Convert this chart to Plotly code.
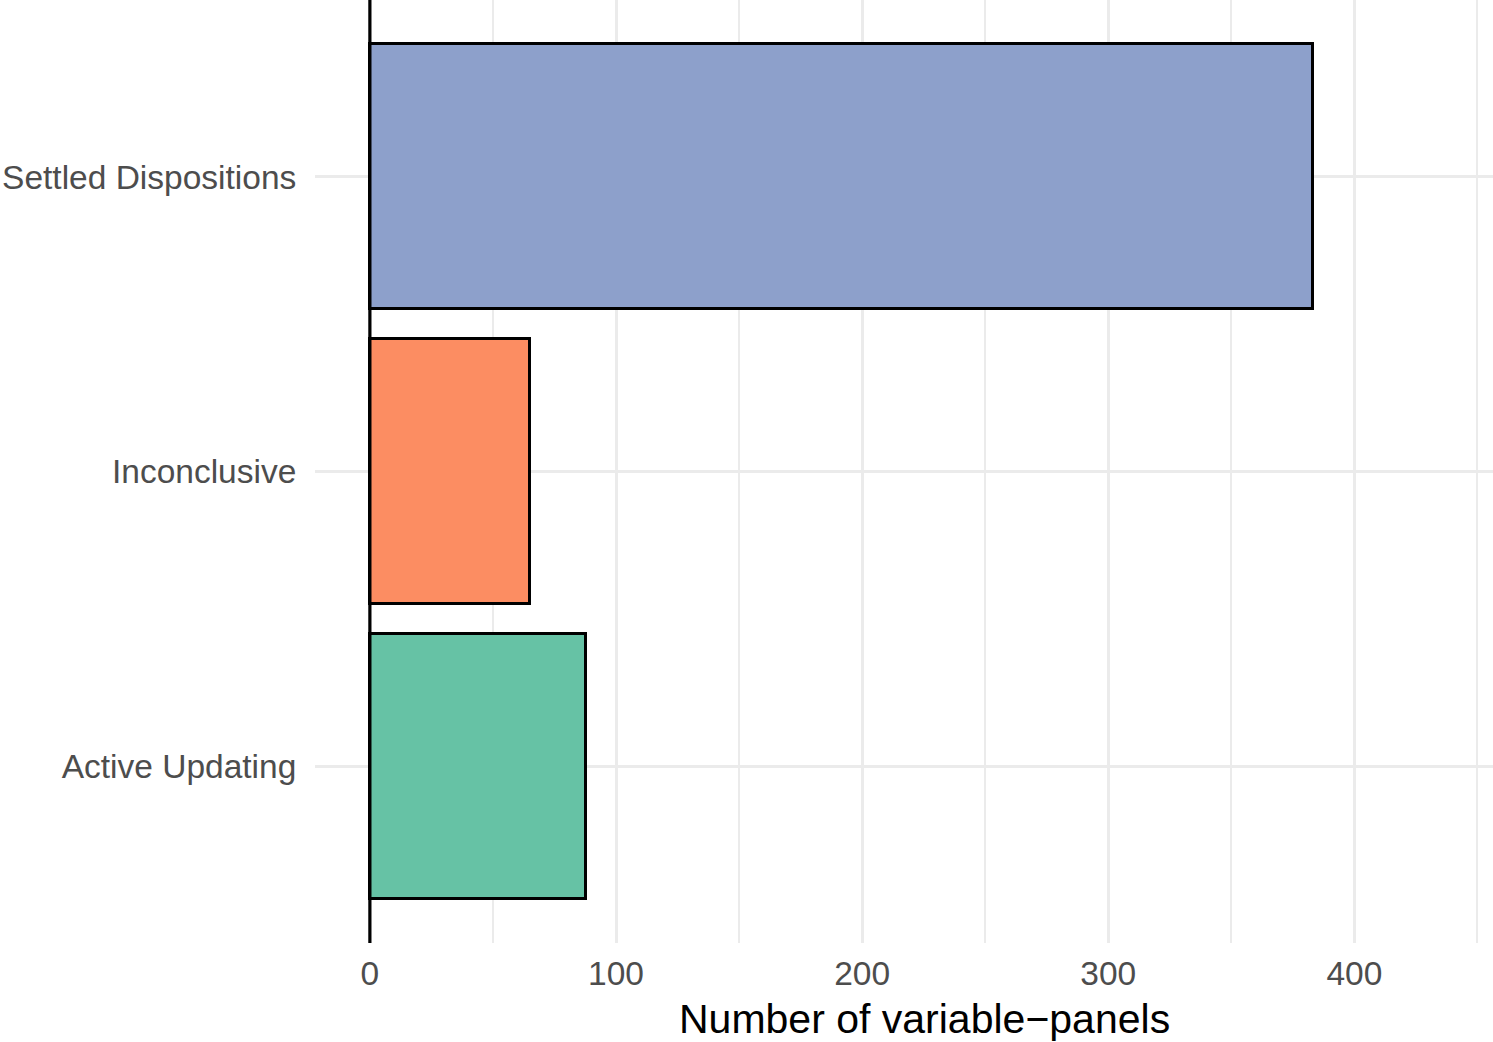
import plotly.graph_objects as go

categories = ["Settled Dispositions", "Inconclusive", "Active Updating"]
counts = [383, 65, 88]
bar_colors = ["#8DA0CB", "#FC8D62", "#66C2A5"]
x_ticks = [0, 100, 200, 300, 400]
x_title = "Number of variable\u2212panels"

FONT = "Liberation Sans, Arial, Helvetica, sans-serif"

fig = go.Figure()
fig.add_trace(go.Bar(
    y=categories,
    x=counts,
    orientation="h",
    width=0.9,
    marker=dict(color=bar_colors, line=dict(color="black", width=3)),
    showlegend=False,
))

fig.add_shape(type="line", xref="x", yref="y domain", x0=0, x1=0, y0=0, y1=1,
              line=dict(color="black", width=3.2), layer="above")

fig.add_annotation(text=x_title, xref="paper", yref="paper",
                   x=(924 - 315) / (1493 - 315), y=-(1019 - 943) / 943,
                   xanchor="center", yanchor="middle", showarrow=False,
                   font=dict(family=FONT, size=41, color="black"))

fig.update_layout(
    width=1493, height=1042,
    margin=dict(l=315, r=0, t=0, b=99),
    paper_bgcolor="white", plot_bgcolor="white",
    font=dict(family=FONT, color="#4D4D4D"),
    bargap=0,
)
fig.update_xaxes(
    range=[-22.3, 456.3],
    tickvals=x_ticks,
    ticktext=[str(v) for v in x_ticks],
    showgrid=True, gridcolor="#EBEBEB", gridwidth=2.8,
    minor=dict(dtick=50, tick0=0, showgrid=True, gridcolor="#EBEBEB", gridwidth=1.6),
    zeroline=False, showline=False,
    ticks="outside", ticklen=1, tickcolor="rgba(0,0,0,0)",
    tickfont=dict(size=33.5, color="#4D4D4D"),
)
fig.update_yaxes(
    type="category",
    categoryorder="array",
    categoryarray=categories[::-1],
    range=[-0.6, 2.6],
    showgrid=True, gridcolor="#EBEBEB", gridwidth=2.8,
    zeroline=False, showline=False,
    ticks="outside", ticklen=11, tickcolor="rgba(0,0,0,0)",
    tickfont=dict(size=33.5, color="#4D4D4D"),
)

fig.write_html("out.html",
               config={"displayModeBar": False},
               post_script="document.body.style.margin='0';document.body.style.overflow='hidden';")
